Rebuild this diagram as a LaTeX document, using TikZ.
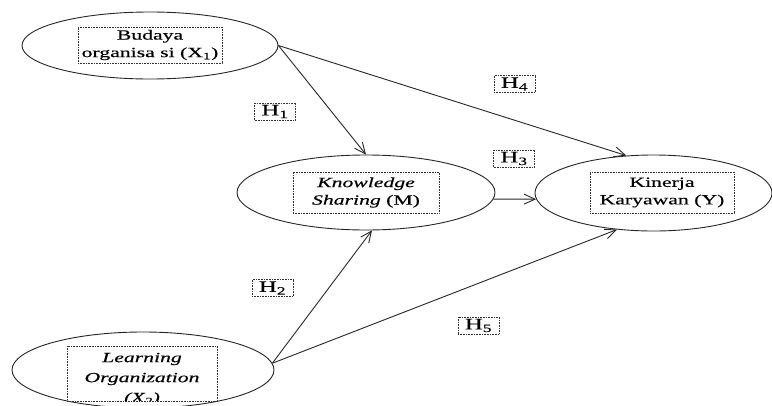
\documentclass[tikz,border=0pt]{standalone}
\usepackage{fontspec}
\setmainfont{Liberation Serif}[FakeStretch=1.55,FakeBold=0.4]
\usetikzlibrary{shapes.geometric,arrows.meta}
\begin{document}
\begin{tikzpicture}[x=1pt,y=-1pt,
  oval/.style={draw=black!85,line width=0.9pt,ellipse,inner sep=0pt},
  tbox/.style={draw=black!80,densely dotted,line width=0.6pt,inner sep=0pt,align=center,font=\fontsize{14}{17.5}\selectfont},
  hbox/.style={draw=black!80,densely dotted,line width=0.6pt,inner sep=0pt,minimum width=41pt,minimum height=17pt,font=\fontsize{16}{16}\selectfont},
  link/.style={draw=black!85,line width=0.9pt,-{Straight Barb[length=11pt,width=10pt]}}]
\useasboundingbox (0,0) rectangle (772,405);
% ellipses
\node[oval,minimum width=256pt,minimum height=67pt] (b) at (150,45.5) {};
\node[oval,minimum width=258pt,minimum height=75pt] (k) at (366,192.5) {};
\node[oval,minimum width=237pt,minimum height=76pt] (y) at (653.5,193) {};
\node[oval,minimum width=262pt,minimum height=76pt] (l) at (143,370) {};
% inner boxes
\node[tbox,minimum width=144pt,minimum height=36pt] (bt) at (150,45) {Budaya\\organisa si (X\textsubscript{1})};
\node[tbox,minimum width=146pt,minimum height=41pt] (kt) at (366,192.5) {\textit{Knowledge}\\\textit{Sharing} (M)};
\node[tbox,minimum width=144pt,minimum height=41pt] (yt) at (662,192.5) {Kinerja\\Karyawan (Y)};
\node[draw=black!80,densely dotted,line width=0.6pt,inner sep=0pt,minimum width=150pt,minimum height=55pt] (lb) at (142,373.5) {};
\begin{scope}
\clip (67,346) rectangle (217,400.5);
\node[align=center,inner sep=0pt,font=\fontsize{14}{20}\selectfont\itshape] (lt) at (142,379) {Learning\\Organization\\(X\textsubscript{2})};
\end{scope}
% connectors
\draw[link] (b.east) -- (k.north);
\draw[link] (b.east) -- (y.126);
\draw[link] (k.-3.5) -- (y.183.5);
\draw[link] (l.3) -- (k.-81);
\draw[link] (l.3) -- (y.225.4);
% labels
\node[hbox] (h1) at (275,111.5) {H\textsubscript{1}};
\node[hbox] (h4) at (514.5,84) {H\textsubscript{4}};
\node[hbox] (h3) at (514,158.5) {H\textsubscript{3}};
\node[hbox] (h2) at (272.5,288) {H\textsubscript{2}};
\node[hbox] (h5) at (478.5,325.5) {H\textsubscript{5}};
\end{tikzpicture}
\end{document}
